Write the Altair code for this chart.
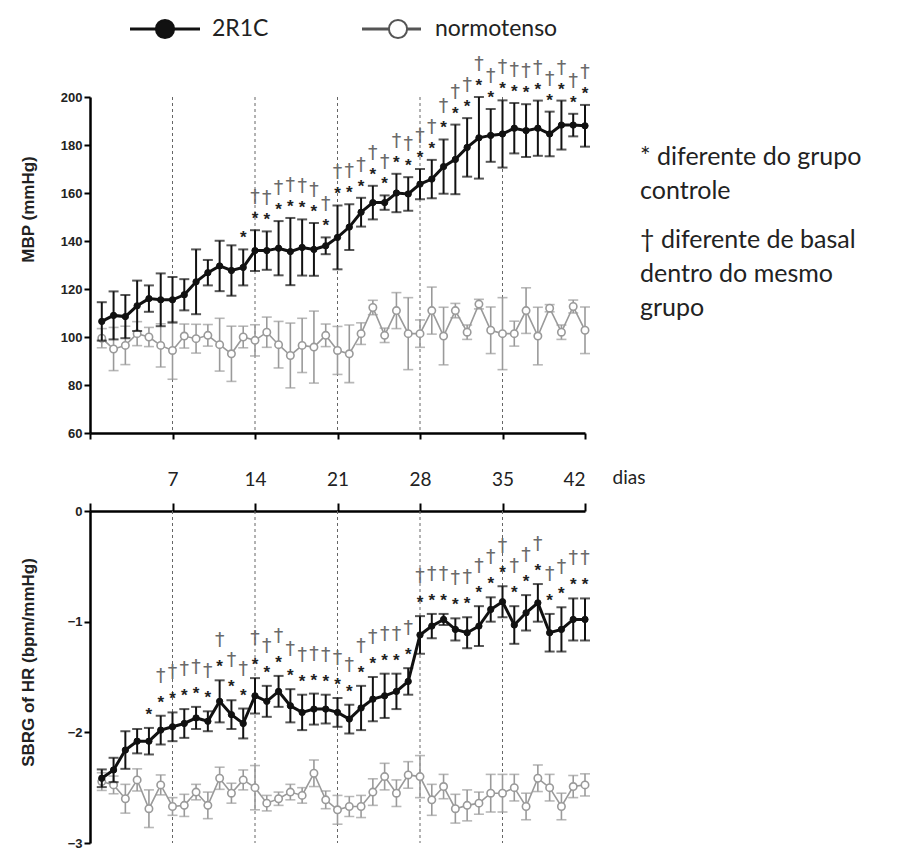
import altair as alt
import pandas as pd

days = list(range(1, 43))
tick_days = [0, 7, 14, 21, 28, 35, 42]
week_lines = [7, 14, 21, 28, 35]

mbp_2r1c_mean = [106.5, 109, 108.5, 113, 116, 115.5, 115.5, 117.6, 123, 126.8,
                 129.6, 127.7, 129, 136, 136, 137, 135.6, 137.3, 136.5, 138,
                 141.5, 145.8, 152, 156, 156, 160, 159.6, 163.7, 165.8, 171,
                 174, 179, 183, 184, 184.6, 187, 186, 187, 184.6, 188.3,
                 188.3, 188]
mbp_2r1c_sem = [8, 10, 9, 10.5, 5.5, 11, 9.5, 6.5, 13.5, 5.3,
                10.5, 10.5, 7.5, 8.5, 8, 11.3, 14, 11.7, 11, 3.5,
                13.3, 9.5, 6, 7, 3, 8, 7, 6.3, 8, 11.3,
                14.5, 12.2, 17, 11, 14, 10.5, 11, 11.5, 9.3, 10.2,
                4.7, 8.7]
mbp_norm_mean = [99.5, 95, 96.5, 101.4, 100, 96.5, 94.4, 100.4, 99.3, 100.7,
                 96.8, 93, 100, 98.6, 102, 96.8, 92.3, 96.5, 95.8, 100.7,
                 94.4, 93, 101.4, 112.3, 100.7, 111, 101.4, 101.4, 111, 100.4,
                 111, 102, 113.7, 102.8, 101.4, 101.4, 111, 100.4, 112, 102,
                 112.7, 102.8]
mbp_norm_sem = [4, 9, 8, 5, 4, 9, 12, 5, 6, 4.5,
                11, 11.5, 4.5, 6.5, 6.3, 9.7, 13.5, 11.3, 15, 4.7,
                10, 12, 4.5, 3, 3, 7.5, 15, 5.7, 9.8, 12,
                3, 3, 2, 9.7, 15, 5.2, 9.5, 12, 1.5, 3,
                2.7, 9.7]

sbrg_2r1c_mean = [-2.415, -2.34, -2.16, -2.08, -2.08, -1.98, -1.95, -1.92, -1.87, -1.90,
                  -1.72, -1.84, -1.92, -1.67, -1.72, -1.63, -1.76, -1.82, -1.79, -1.79,
                  -1.82, -1.88, -1.78, -1.70, -1.67, -1.63, -1.54, -1.12, -1.04, -0.98,
                  -1.07, -1.10, -1.04, -0.89, -0.82, -1.03, -0.92, -0.83, -1.10, -1.07,
                  -0.98, -0.98]
sbrg_2r1c_sem = [0.08, 0.11, 0.17, 0.11, 0.12, 0.13, 0.13, 0.13, 0.10, 0.09,
                 0.19, 0.13, 0.135, 0.16, 0.14, 0.14, 0.15, 0.16, 0.14, 0.13,
                 0.13, 0.13, 0.20, 0.20, 0.20, 0.16, 0.12, 0.17, 0.11, 0.05,
                 0.10, 0.14, 0.18, 0.11, 0.14, 0.17, 0.16, 0.17, 0.17, 0.20,
                 0.19, 0.19]
sbrg_norm_mean = [-2.445, -2.475, -2.60, -2.43, -2.69, -2.475, -2.67, -2.66, -2.54, -2.66,
                  -2.415, -2.55, -2.43, -2.50, -2.64, -2.60, -2.54, -2.57, -2.37, -2.61,
                  -2.70, -2.67, -2.67, -2.54, -2.40, -2.55, -2.385, -2.40, -2.61, -2.49,
                  -2.69, -2.66, -2.64, -2.55, -2.55, -2.50, -2.67, -2.415, -2.50, -2.67,
                  -2.49, -2.475]
sbrg_norm_sem = [0.08, 0.08, 0.13, 0.10, 0.17, 0.09, 0.08, 0.10, 0.07, 0.12,
                 0.10, 0.09, 0.09, 0.20, 0.07, 0.06, 0.07, 0.07, 0.12, 0.08,
                 0.13, 0.09, 0.10, 0.12, 0.12, 0.12, 0.12, 0.19, 0.14, 0.11,
                 0.13, 0.14, 0.10, 0.17, 0.17, 0.12, 0.12, 0.12, 0.12, 0.12,
                 0.10, 0.10]

mbp_star_days = list(range(13, 43))
mbp_dagger_days = list(range(14, 43))
sbrg_star_days = list(range(5, 43))
sbrg_dagger_days = list(range(6, 43))

legend_labels = ["2R1C", "normotenso"]
note_star = "* diferente do grupo\ncontrole"
note_dagger = "\u2020 diferente de basal\ndentro do mesmo\ngrupo"
x_title = "dias"

BLACK = "#111111"
GRAY = "#9a9a9a"
LEG_GRAY = "#555555"
TXT_FONT = "Lato"
AX_FONT = "Liberation Sans"


def frame(mean, sem):
    return pd.DataFrame({"day": days, "m": mean, "s": sem})


def x_enc(top_panel):
    if top_panel:
        axis = alt.Axis(values=tick_days, labels=False, title=None, tickSize=6,
                        tickWidth=2, tickColor="black", domainWidth=2.5,
                        domainColor="black", grid=False)
    else:
        axis = alt.Axis(values=tick_days, orient="top", title=x_title,
                        labelExpr="datum.value == 0 ? '' : datum.label",
                        labelFont=TXT_FONT, labelFontSize=19, labelColor="#222",
                        labelPadding=14, tickSize=8, tickWidth=2, tickColor="black",
                        domainWidth=2.5, domainColor="black", grid=False,
                        titleFont=TXT_FONT, titleFontSize=19, titleFontWeight="normal",
                        titleColor="#222", titleX=522, titleY=-34, titleAlign="left",
                        titleBaseline="middle", titleAngle=0)
    return alt.X("day:Q", scale=alt.Scale(domain=[0, 42], nice=False), axis=axis)


def y_enc(field, top_panel):
    if top_panel:
        scale = alt.Scale(domain=[60, 200], nice=False, zero=False)
        axis = alt.Axis(values=list(range(60, 201, 20)), title="MBP (mmHg)",
                        titleX=-62, titleY=112)
    else:
        scale = alt.Scale(domain=[-3, 0], nice=False, zero=False)
        axis = alt.Axis(values=[-3, -2, -1, 0], format="d", title="SBRG of HR (bpm/mmHg)",
                        titleX=-62, titleY=151)
    axis.tickSize = 6
    axis.tickWidth = 2
    axis.tickColor = "black"
    axis.domainWidth = 2.5
    axis.domainColor = "black"
    axis.labelFont = AX_FONT
    axis.labelFontSize = 13
    axis.labelFontWeight = "bold"
    axis.labelColor = "#222"
    axis.labelPadding = 2
    axis.titleFont = AX_FONT
    axis.titleFontSize = 17
    axis.titleFontWeight = "bold"
    axis.titleColor = "#222"
    axis.titleAngle = 270
    axis.titleBaseline = "middle"
    axis.grid = False
    return alt.Y(field, type="quantitative", scale=scale, axis=axis)


def series(df, top_panel, color, open_pt, lw, size, ew):
    base = alt.Chart(df).transform_calculate(hi="datum.m + datum.s", lo="datum.m - datum.s")
    x = x_enc(top_panel)
    layers = [
        base.mark_rule(color=color, strokeWidth=ew).encode(x=x, y=y_enc("lo", top_panel), y2="hi:Q"),
        base.mark_tick(color=color, orient="horizontal", size=10, thickness=ew).encode(x=x, y=y_enc("hi", top_panel)),
        base.mark_tick(color=color, orient="horizontal", size=10, thickness=ew).encode(x=x, y=y_enc("lo", top_panel)),
        base.mark_line(color=color, strokeWidth=lw).encode(x=x, y=y_enc("m", top_panel)),
    ]
    if open_pt:
        pts = base.mark_point(shape="circle", filled=True, fill="white", stroke=color,
                              strokeWidth=1.6, size=size, opacity=1)
    else:
        pts = base.mark_point(shape="circle", filled=True, fill=color, stroke=color,
                              strokeWidth=1, size=size, opacity=1)
    layers.append(pts.encode(x=x, y=y_enc("m", top_panel)))
    return layers


def markers(df, top_panel, star_days, dagger_days, star_dy, dagger_dy):
    base = alt.Chart(df).transform_calculate(hi="datum.m + datum.s")
    x = x_enc(top_panel)
    stars = base.transform_filter(alt.FieldOneOfPredicate(field="day", oneOf=star_days)).mark_text(
        text="*", fontSize=17, fontWeight="bold", color="#222", dy=star_dy, baseline="middle",
        font=AX_FONT).encode(x=x, y=y_enc("hi", top_panel))
    daggers = base.transform_filter(alt.FieldOneOfPredicate(field="day", oneOf=dagger_days)).mark_text(
        text="\u2020", fontSize=19, color="#6a6a6a", dy=dagger_dy, baseline="middle",
        font="DejaVu Sans").encode(x=x, y=y_enc("hi", top_panel))
    return [stars, daggers]


def vlines():
    return alt.Chart(pd.DataFrame({"day": week_lines})).mark_rule(
        color="#666", strokeDash=[3, 3], strokeWidth=1).encode(x=alt.X("day:Q"))


# ---------- legend and notes (annotations in pixel space of top panel) ----------
leg_df = pd.DataFrame({"label": legend_labels})
leg1 = alt.Chart(leg_df).transform_filter("datum.label == '2R1C'")
leg2 = alt.Chart(leg_df).transform_filter("datum.label == 'normotenso'")
legend_layers = [
    leg1.mark_rule(color=BLACK, strokeWidth=3).encode(x=alt.value(40), x2=alt.value(110), y=alt.value(-68)),
    leg1.mark_point(shape="circle", filled=True, fill=BLACK, stroke=BLACK, size=330, opacity=1).encode(
        x=alt.value(75), y=alt.value(-68)),
    leg1.mark_text(align="left", baseline="middle", font=TXT_FONT, fontSize=23, color="#222").encode(
        text="label:N", x=alt.value(122), y=alt.value(-68)),
    leg2.mark_rule(color=LEG_GRAY, strokeWidth=3).encode(x=alt.value(272), x2=alt.value(331), y=alt.value(-68)),
    leg2.mark_point(shape="circle", filled=True, fill="white", stroke=LEG_GRAY, strokeWidth=2, size=330,
                    opacity=1).encode(x=alt.value(308), y=alt.value(-68)),
    leg2.mark_text(align="left", baseline="middle", font=TXT_FONT, fontSize=23, color="#222").encode(
        text="label:N", x=alt.value(345), y=alt.value(-68)),
]

notes_df = pd.DataFrame({"note": [note_star, note_dagger]})
notes_layers = [
    alt.Chart(notes_df).transform_filter(alt.FieldEqualPredicate(field="note", equal=note_star)).mark_text(
        align="left", baseline="top", font=TXT_FONT, fontSize=25, color="#222", lineBreak="\n",
        lineHeight=34).encode(text="note:N", x=alt.value(550), y=alt.value(48)),
    alt.Chart(notes_df).transform_filter(alt.FieldEqualPredicate(field="note", equal=note_dagger)).mark_text(
        align="left", baseline="top", font=TXT_FONT, fontSize=25, color="#222", lineBreak="\n",
        lineHeight=34).encode(text="note:N", x=alt.value(550), y=alt.value(131)),
]

mbp_r = frame(mbp_2r1c_mean, mbp_2r1c_sem)
mbp_n = frame(mbp_norm_mean, mbp_norm_sem)
sb_r = frame(sbrg_2r1c_mean, sbrg_2r1c_sem)
sb_n = frame(sbrg_norm_mean, sbrg_norm_sem)

top_layers = ([vlines()]
              + series(mbp_n, True, GRAY, True, 1.6, 55, 1.6)
              + series(mbp_r, True, BLACK, False, 3, 40, 2)
              + markers(mbp_r, True, mbp_star_days, mbp_dagger_days, -11, -33)
              + legend_layers + notes_layers)
bottom_layers = ([vlines()]
                 + series(sb_n, False, GRAY, True, 1.6, 55, 1.6)
                 + series(sb_r, False, BLACK, False, 3, 40, 2)
                 + markers(sb_r, False, sbrg_star_days, sbrg_dagger_days, -13, -40))

top = alt.layer(*top_layers).properties(width=495, height=336)
bottom = alt.layer(*bottom_layers).properties(width=495, height=332)

chart = alt.vconcat(top, bottom, spacing=78, bounds="flush").properties(
    padding={"left": 11, "top": 7, "right": 5, "bottom": 5}
).configure_view(stroke=None).configure_axis(grid=False)

chart.save("out.html", embed_options={"renderer": "svg", "actions": False})
